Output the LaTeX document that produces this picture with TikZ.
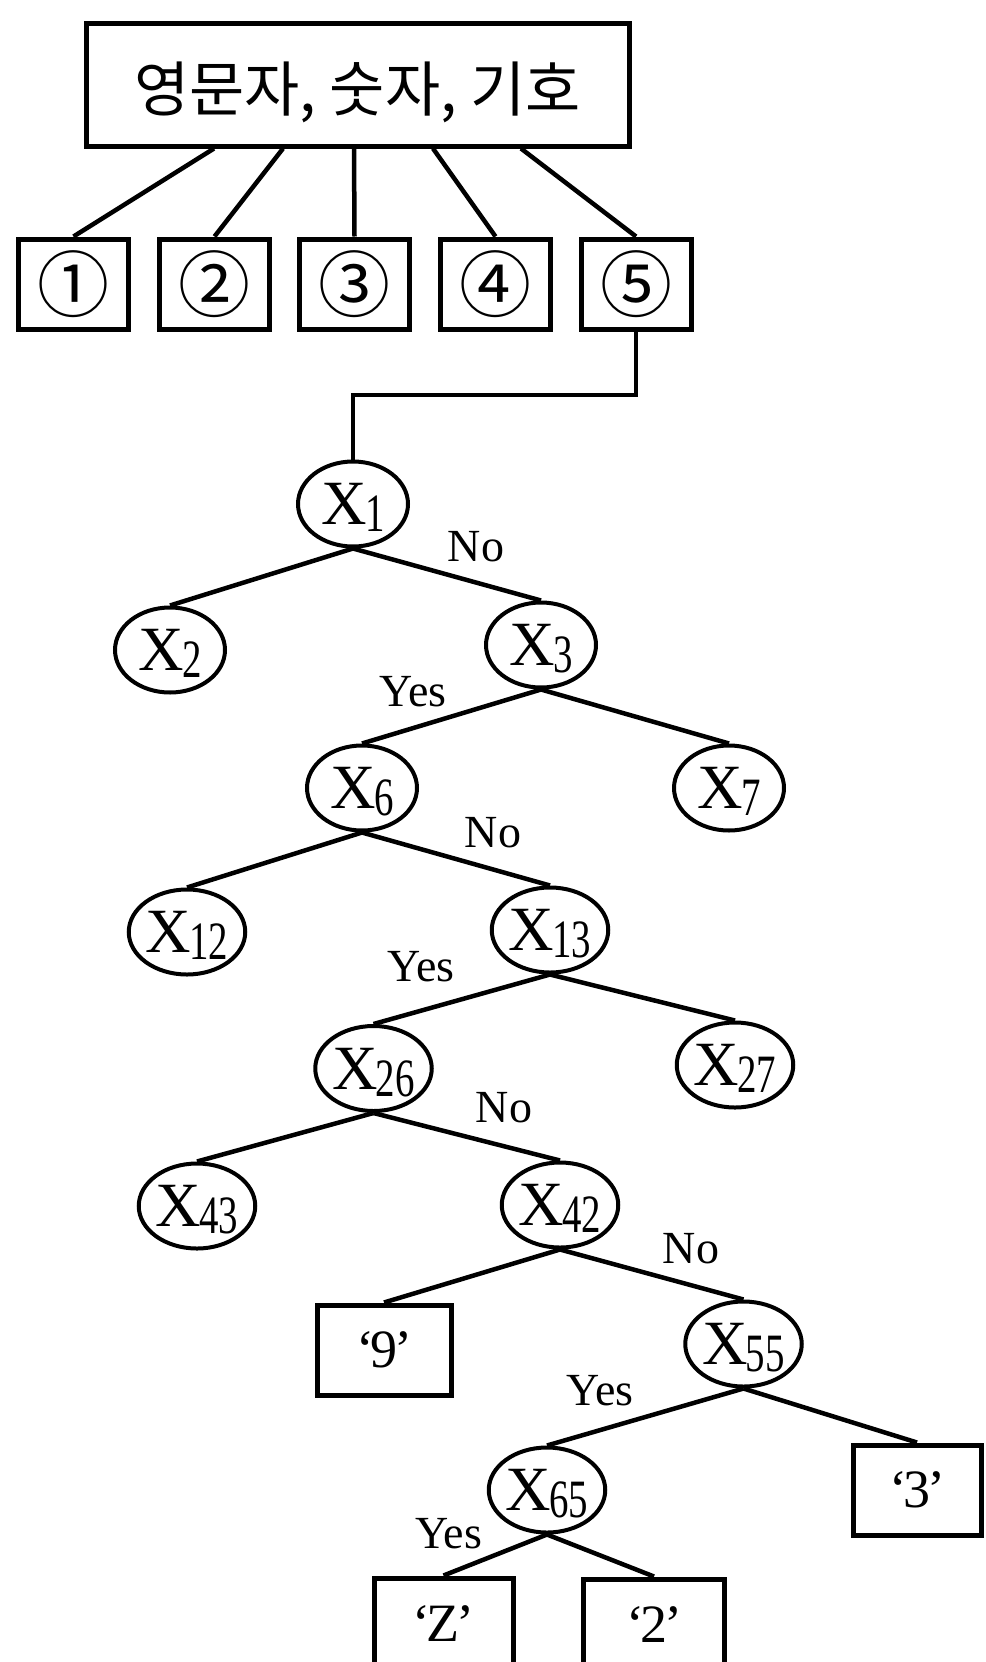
\documentclass[tikz,border=0pt]{standalone}
\usepackage{fontspec}
\setmainfont{Liberation Serif}
\newfontfamily\krfont{Noto Sans CJK KR}
\usetikzlibrary{shapes.geometric,calc}
\newcommand\xlab[1]{X\kern-2pt\smash{\raisebox{-7pt}{\scalebox{0.72}[1]{\fontsize{54pt}{54pt}\selectfont #1}}}}
\newcommand\cdig[1]{{\krfont\fontsize{72pt}{72pt}\selectfont #1}}
\newcommand\qt[1]{‘\kern-4pt #1\kern-3pt’}
\begin{document}
\begin{tikzpicture}[x=1pt,y=-1pt,
  xnode/.style={ellipse, draw, line width=4pt, minimum width=110pt, minimum height=85pt, inner sep=0pt, font=\fontsize{63pt}{63pt}\selectfont},
  numbox/.style={rectangle, draw, line width=5pt, minimum width=110pt, minimum height=90pt, inner sep=0pt},
  leafbox/.style={rectangle, draw, line width=5pt, minimum height=90pt, inner sep=0pt, font=\fontsize{54pt}{54pt}\selectfont},
  lbl/.style={inner sep=0pt, font=\fontsize{46pt}{46pt}\selectfont},
  edge/.style={line width=4.5pt}]
\useasboundingbox (0,0) rectangle (985,1662);
\clip (0,0) rectangle (985,1662);
\fill[white] (0,0) rectangle (985,1662);

% top box
\node[rectangle, draw, line width=5pt, minimum width=543pt, minimum height=122pt, inner sep=0pt,
      font=\krfont\fontsize{60pt}{60pt}\selectfont] (top) at (357.5,85) {\raisebox{-7pt}[\height][\depth]{영문자, 숫자, 기호}};

\node[numbox] (b1) at (73.5,284) {\cdig{①}};
\node[numbox] (b2) at (214.5,284) {\cdig{②}};
\node[numbox] (b3) at (354.5,284) {\cdig{③}};
\node[numbox] (b4) at (495.5,284) {\cdig{④}};
\node[numbox] (b5) at (636,284) {\cdig{⑤}};

\coordinate (a1) at ($(top.south)+(-143.5,0)$);
\coordinate (a2) at ($(top.south)+(-74.5,0)$);
\coordinate (a3) at ($(top.south)+(-3.5,0)$);
\coordinate (a4) at ($(top.south)+(75.5,0)$);
\coordinate (a5) at ($(top.south)+(163.5,0)$);
\draw[edge] (a1) -- (b1.north);
\draw[edge] (a2) -- (b2.north);
\draw[edge] (a3) -- (b3.north);
\draw[edge] (a4) -- (b4.north);
\draw[edge] (a5) -- (b5.north);

% tree nodes
\node[xnode] (X1) at (353,504) {\xlab{1}};
\node[xnode] (X2) at (170,650) {\xlab{2}};
\node[xnode] (X3) at (541,645) {\xlab{3}};
\node[xnode] (X6) at (362,788) {\xlab{6}};
\node[xnode] (X7) at (729,788) {\xlab{7}};
\node[xnode] (X12) at (187,932) {\xlab{12}};
\node[xnode] (X13) at (550,930) {\xlab{13}};
\node[xnode] (X26) at (373.5,1068.5) {\xlab{26}};
\node[xnode] (X27) at (735,1065) {\xlab{27}};
\node[xnode] (X43) at (197,1206) {\xlab{43}};
\node[xnode] (X42) at (560,1205) {\xlab{42}};
\node[xnode] (X55) at (743.5,1344) {\xlab{55}};
\node[xnode] (X65) at (547,1490) {\xlab{65}};

\node[leafbox, minimum width=134pt] (L9) at (384,1350) {\qt{9}};
\node[leafbox, minimum width=128pt] (L3) at (917,1490) {\qt{3}};
\node[leafbox, minimum width=139pt] (LZ) at (443.5,1623) {\qt{Z}};
\node[leafbox, minimum width=141pt] (L2) at (654,1624) {\qt{2}};

% connector from 5 to X1
\path (X1.north) ++(0,-64.5) coordinate (bend);
\draw[edge] (b5.south) |- (bend) -- (X1.north);

\draw[edge] (X1.south) -- (X2.north);
\draw[edge] (X1.south) -- (X3.north);
\draw[edge] (X3.south) -- (X6.north);
\draw[edge] (X3.south) -- (X7.north);
\draw[edge] (X6.south) -- (X12.north);
\draw[edge] (X6.south) -- (X13.north);
\draw[edge] (X13.south) -- (X26.north);
\draw[edge] (X13.south) -- (X27.north);
\draw[edge] (X26.south) -- (X43.north);
\draw[edge] (X26.south) -- (X42.north);
\draw[edge] (X42.south) -- (L9.north);
\draw[edge] (X42.south) -- (X55.north);
\draw[edge] (X55.south) -- (X65.north);
\draw[edge] (X55.south) -- (L3.north);
\draw[edge] (X65.south) -- (LZ.north);
\draw[edge] (X65.south) -- (L2.north);

% labels
\node[lbl] (n1) at (476,547) {No};
\node[lbl] (y3) at (413,692) {Yes};
\node[lbl] (n6) at (493,833) {No};
\node[lbl] (y13) at (421,967) {Yes};
\node[lbl] (n26) at (504,1108) {No};
\node[lbl] (n42) at (691,1249) {No};
\node[lbl] (y55) at (600,1391) {Yes};
\node[lbl] (y65) at (448.5,1534) {Yes};
\end{tikzpicture}
\end{document}
